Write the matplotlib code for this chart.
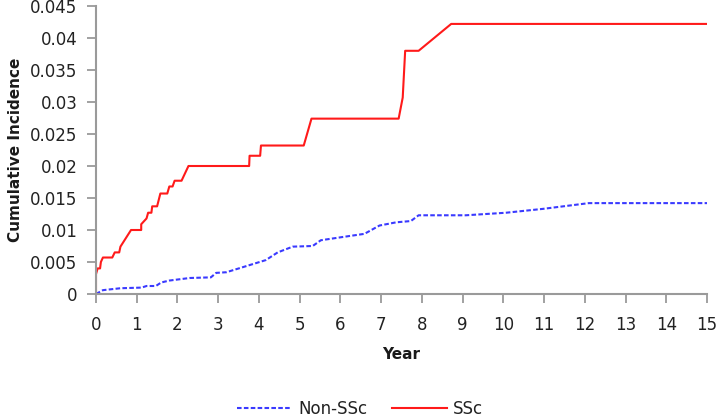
import matplotlib
matplotlib.use("Agg")
import matplotlib.pyplot as plt

# Data (vertices)
ssc_years = [0, 0, 0.04, 0.10, 0.12, 0.17, 0.40, 0.46, 0.57, 0.60, 0.86, 1.11, 1.11, 1.24, 1.28, 1.36, 1.38, 1.50,
             1.58, 1.75, 1.80, 1.88, 1.93, 2.10, 2.27, 3.76, 3.77, 4.03, 4.05, 5.10, 5.29, 7.43, 7.53, 7.59, 7.92,
             8.72, 15.0]
ssc_ci = [0, 0.0031, 0.0040, 0.0040, 0.0050, 0.0057, 0.0057, 0.0065, 0.0065, 0.0074, 0.0100, 0.0100, 0.0109,
          0.0118, 0.0127, 0.0127, 0.0137, 0.0137, 0.0157, 0.0157, 0.0168, 0.0168, 0.0177, 0.0177, 0.0200, 0.0200,
          0.0216, 0.0216, 0.0232, 0.0232, 0.0274, 0.0274, 0.0307, 0.0380, 0.0380, 0.0422, 0.0422]

non_years = [0, 0.17, 0.60, 1.12, 1.24, 1.47, 1.60, 1.80, 2.05, 2.30, 2.82, 2.95, 3.20, 4.17, 4.46, 4.83, 5.32,
             5.52, 6.05, 6.59, 6.96, 7.37, 7.73, 7.92, 9.08, 10.07, 10.97, 12.10, 15.0]
non_ci = [0, 0.0006, 0.0009, 0.0010, 0.00125, 0.00125, 0.0018, 0.0021, 0.0023, 0.0025, 0.0026, 0.0033, 0.0034,
          0.0053, 0.0065, 0.0074, 0.0075, 0.0084, 0.0089, 0.0094, 0.0107, 0.0112, 0.0114, 0.0123, 0.0123, 0.0127,
          0.0133, 0.0142, 0.0142]

x_ticks = list(range(0, 16))
y_ticks = [0, 0.005, 0.01, 0.015, 0.02, 0.025, 0.03, 0.035, 0.04, 0.045]
y_tick_labels = ["0", "0.005", "0.01", "0.015", "0.02", "0.025", "0.03", "0.035", "0.04", "0.045"]

plt.rcParams['font.family'] = ['DejaVu Sans']

fig = plt.figure(figsize=(7.2, 4.2), dpi=100)
ax = fig.add_axes([96 / 720, 126 / 420, (707 - 96) / 720, (294 - 6) / 420])

line_non, = ax.plot(non_years, non_ci, color='#3a3aff', lw=1.5, linestyle=(0, (2.2, 1.1)), label='Non-SSc')
line_ssc, = ax.plot(ssc_years, ssc_ci, color='#ff1a1a', lw=1.5, label='SSc')

ax.set_xlim(0, 15)
ax.set_ylim(0, 0.045)
ax.set_xticks(x_ticks)
ax.set_xticklabels([str(t) for t in x_ticks])
ax.set_yticks(y_ticks)
ax.set_yticklabels(y_tick_labels)

for s in ['top', 'right']:
    ax.spines[s].set_visible(False)
for s in ['left', 'bottom']:
    ax.spines[s].set_color('#9a9a9a')
    ax.spines[s].set_linewidth(1.5)
ax.tick_params(axis='both', colors='#9a9a9a', length=6.5, width=1.3, direction='out',
               labelcolor='#222222', labelsize=12)
ax.tick_params(axis='y', pad=7)
ax.tick_params(axis='x', pad=9)

ax.set_xlabel('Year', fontsize=11, fontweight='bold', color='#1a1a1a', labelpad=10)
ax.set_ylabel('Cumulative Incidence', fontsize=11, fontweight='bold', color='#1a1a1a', labelpad=5)

fig.legend(handles=[line_non, line_ssc], loc='center', bbox_to_anchor=(0.5, 0.026), ncol=2, frameon=False,
           fontsize=12, handlelength=3.3, columnspacing=1.45, handletextpad=0.4, labelcolor='#222222',
           borderpad=0.2)

fig.savefig('out.png', dpi=100)
